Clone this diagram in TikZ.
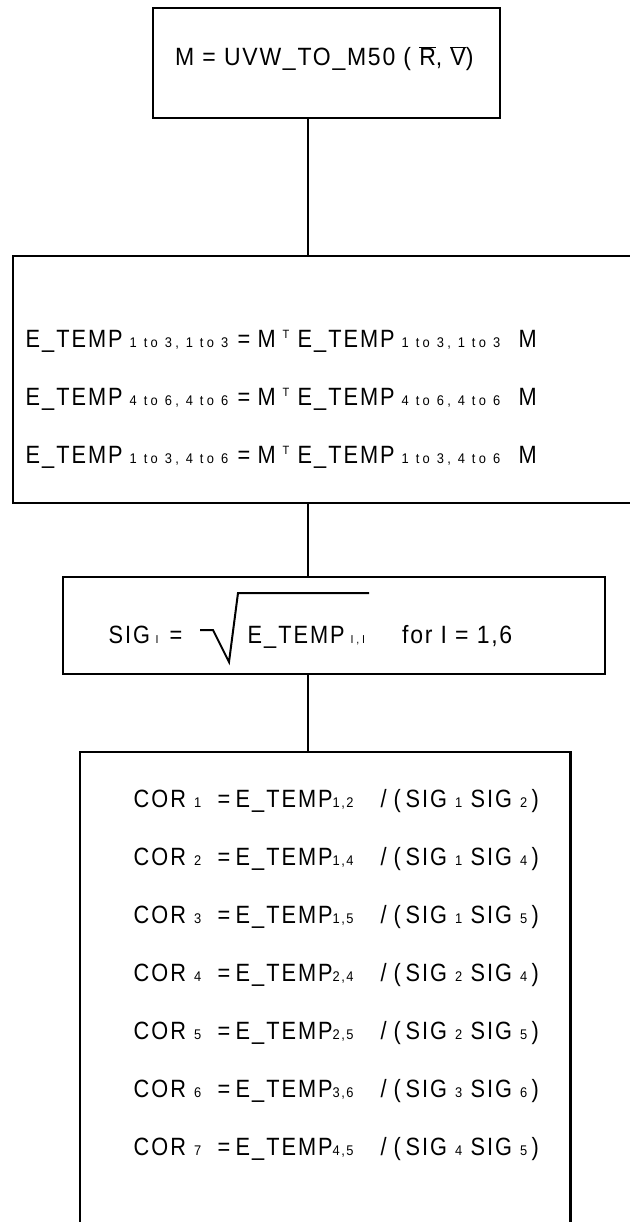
\documentclass[tikz,border=0pt]{standalone}
\usepackage{fontspec}
\setmainfont{Liberation Sans}
\newfontfamily\lsf[LetterSpace=7, FakeStretch=0.92]{Liberation Sans}
\newfontfamily\lsn[LetterSpace=8, FakeStretch=0.87]{Liberation Sans}
\newfontfamily\lsfs[LetterSpace=24, FakeStretch=0.92]{Liberation Sans}
\newfontfamily\lsfc[LetterSpace=10, FakeStretch=0.92]{Liberation Sans}
\newcommand\sbs[1]{\raisebox{-0.5pt}{\lsfs\fontsize{14}{14}\selectfont #1}}
\newcommand\sbc[1]{\raisebox{-0.5pt}{\lsfc\fontsize{14}{14}\selectfont #1}}
\newcommand\sbt[1]{\raisebox{-0.5pt}{\lsfs\fontsize{11.5}{11.5}\selectfont #1}}
\newcommand\sps[1]{\raisebox{9pt}{\lsfc\fontsize{12}{12}\selectfont #1}}
\newcommand\ovl[1]{$\overline{\hbox{#1}}$}
\newcommand\at[2]{\rlap{\hspace*{#1}#2}}
\newcommand\corline[4]{\at{0pt}{COR \sbc{#1}}\at{84pt}{=}\at{102pt}{E\_TEMP\sbc{#2}}\at{247pt}{/}\at{260pt}{(}\at{272pt}{SIG \sbc{#3}}\at{337pt}{SIG \sbc{#4}\,)}}
\newcommand\eline[1]{\at{0pt}{E\_TEMP}\at{104pt}{\sbs{#1}}\at{212pt}{=}\at{232pt}{M}\at{257pt}{\sps{T}}\at{272pt}{E\_TEMP}\at{376pt}{\sbs{#1}}\at{493pt}{M}}
\begin{document}
\begin{tikzpicture}[x=1pt,y=-1pt,
  box/.style={draw, line width=2.4pt, rectangle, inner sep=0pt, anchor=north west},
  openbox/.style={rectangle, inner sep=0pt, anchor=north west},
  conn/.style={line width=1.8pt},
  txt/.style={anchor=base west, inner sep=0pt, font=\lsn\fontsize{25}{29}\selectfont},
  txtw/.style={anchor=base west, inner sep=0pt, font=\lsf\fontsize{25}{29}\selectfont}]
\useasboundingbox (0,0) rectangle (629,1222);
\coordinate (cx) at (308,0);
% boxes
\node[box, minimum width=347pt, minimum height=110pt] (b1) at (152,7) {};
\node[box, minimum width=640pt, minimum height=247pt] (b2) at (12,255) {};
\node[box, minimum width=542pt, minimum height=97pt] (b3) at (62,576) {};
\node[openbox, minimum width=490pt, minimum height=480pt] (b4) at (80,752) {};
\draw[line width=2.4pt] (b4.south west) -- (b4.north west) -- (b4.north east) -- (b4.south east);
% connectors
\draw[conn] (b1.south -| cx) -- (b2.north -| cx);
\draw[conn] (b2.south -| cx) -- (b3.north -| cx);
\draw[conn] (b3.south -| cx) -- (b4.north -| cx);
% box 1
\node[txtw] (t1) at (175,66) {M = UVW\_TO\_M50 ( \ovl{R}, \ovl{V})};
% box 2
\node[txt] (t21) at (25,347) {\eline{1 to 3, 1 to 3}};
\node[txt] (t22) at (25,405) {\eline{4 to 6, 4 to 6}};
\node[txt] (t23) at (25,463) {\eline{1 to 3, 4 to 6}};
% box 3
\node[txt] (t31) at (108,643) {\at{0pt}{SIG}\at{47pt}{\sbt{I}}\at{61pt}{=}};
\draw[line width=2pt, line join=miter] (200,630) -- (213,630) -- (229,662) -- (238,593) -- (369,593);
\node[txt] (t32) at (247,643) {\at{0pt}{E\_TEMP}\at{103pt}{\sbt{I,I}}};
\node[txtw] (t33) at (402,643) {for I = 1,6};
% box 4
\node[txt] (c1) at (133,807) {\corline{1}{1,2}{1}{2}};
\node[txt] (c2) at (133,865) {\corline{2}{1,4}{1}{4}};
\node[txt] (c3) at (133,923) {\corline{3}{1,5}{1}{5}};
\node[txt] (c4) at (133,981) {\corline{4}{2,4}{2}{4}};
\node[txt] (c5) at (133,1039) {\corline{5}{2,5}{2}{5}};
\node[txt] (c6) at (133,1097) {\corline{6}{3,6}{3}{6}};
\node[txt] (c7) at (133,1155) {\corline{7}{4,5}{4}{5}};
\end{tikzpicture}
\end{document}
